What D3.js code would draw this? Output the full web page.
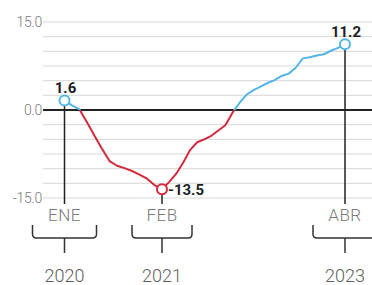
<!DOCTYPE html>
<html>
<head>
<meta charset="utf-8">
<script src="https://cdn.jsdelivr.net/npm/d3@7"></script>
<style>
  body { margin: 0; background: #fff; }
  svg { display: block; }
</style>
</head>
<body>
<svg id="chart" width="372" height="285"></svg>
<script>
// monthly values, ENE 2020 .. ABR 2023
var values = [1.6, 0.8, 0.1, -2.1, -4.4, -6.6, -8.7, -9.5, -9.9, -10.4, -11.0, -11.7, -12.8, -13.5,
              -12.3, -10.9, -9.0, -6.8, -5.5, -5.0, -4.4, -3.5, -2.6, -0.5, 1.2, 2.6, 3.4, 4.0,
              4.6, 5.1, 5.8, 6.2, 7.2, 8.8, 9.0, 9.3, 9.5, 10.1, 10.6, 11.2]
var marks = [0, 13, 39]          // highlighted months
var markLabels = ['1.6', '-13.5', '11.2']
var monthLabels = ['ENE', 'FEB', 'ABR']
var yearLabels = ['2020', '2021', '2023']
var yTicks = [15, 0, -15]
var gridValues = d3.range(-15, 15.01, 2.5)

var red = '#d12a3c'
var blue = '#55b5e4'

var svg = d3.select('#chart')

var x = d3.scaleLinear().domain([0, 13, 39]).range([64.5, 162, 345])
var y = d3.scaleLinear().domain([-15, 15]).range([198, 22])

// grid
svg.selectAll('.grid')
    .data(gridValues)
    .join('line')
    .attr('x1', 43).attr('x2', 372)
    .attr('y1', d => y(d)).attr('y2', d => y(d))
    .attr('stroke', '#d8d8d8')
    .attr('stroke-width', 1)

// y labels
svg.selectAll('.ylab')
    .data(yTicks)
    .join('text')
    .attr('x', 42)
    .attr('y', d => y(d))
    .attr('dy', '0.36em')
    .attr('text-anchor', 'end')
    .attr('font-family', 'Roboto, sans-serif')
    .attr('font-weight', 300)
    .attr('font-size', 14)
    .attr('fill', '#7a7a7a')
    .attr('letter-spacing', -0.3)
    .text(d => d.toFixed(1))

// vertical marker lines
svg.selectAll('.vline')
    .data(marks)
    .join('line')
    .attr('x1', d => x(d)).attr('x2', d => x(d))
    .attr('y1', d => y(values[d])).attr('y2', 204)
    .attr('stroke', '#222')
    .attr('stroke-width', 1.5)

// zero line
svg.append('line')
    .attr('x1', 43).attr('x2', 372)
    .attr('y1', y(0)).attr('y2', y(0))
    .attr('stroke', '#222')
    .attr('stroke-width', 1.8)

// gradient: blue above zero, red below
var grad = svg.append('defs').append('linearGradient')
    .attr('id', 'split')
    .attr('gradientUnits', 'userSpaceOnUse')
    .attr('x1', 0).attr('x2', 0)
    .attr('y1', y(15)).attr('y2', y(-15))
var z = (y(0) - y(15)) / (y(-15) - y(15))
grad.append('stop').attr('offset', z).attr('stop-color', blue)
grad.append('stop').attr('offset', z).attr('stop-color', red)

var line = d3.line()
    .x((d, i) => x(i))
    .y(d => y(d))

svg.append('path')
    .datum(values)
    .attr('d', line)
    .attr('fill', 'none')
    .attr('stroke', 'url(#split)')
    .attr('stroke-width', 2)
    .attr('stroke-linejoin', 'round')

// marker circles
svg.selectAll('.dot')
    .data(marks)
    .join('circle')
    .attr('cx', d => x(d))
    .attr('cy', d => y(values[d]))
    .attr('r', 5)
    .attr('fill', '#fff')
    .attr('stroke', d => values[d] < 0 ? red : blue)
    .attr('stroke-width', 2)

// value labels
svg.selectAll('.vlab')
    .data(marks)
    .join('text')
    .attr('x', (d, i) => i == 1 ? x(d) + 6 : x(d) + 1)
    .attr('y', (d, i) => i == 1 ? y(values[d]) : y(values[d]) - 13)
    .attr('dy', '0.36em')
    .attr('text-anchor', (d, i) => i == 1 ? 'start' : 'middle')
    .attr('font-family', 'Roboto, sans-serif')
    .attr('font-weight', 700)
    .attr('font-size', 15)
    .attr('fill', '#1e1e1e')
    .text((d, i) => markLabels[i])

// month labels
svg.selectAll('.mlab')
    .data(marks)
    .join('text')
    .attr('x', d => x(d))
    .attr('y', 221)
    .attr('text-anchor', 'middle')
    .attr('font-family', 'Roboto, sans-serif')
    .attr('font-weight', 300)
    .attr('font-size', 17)
    .attr('fill', '#7a7a7a')
    .attr('letter-spacing', 0.5)
    .text((d, i) => monthLabels[i])

// braces
var halfW = [32, 30, 32]
svg.selectAll('.brace')
    .data(marks)
    .join('path')
    .attr('d', (d, i) => {
        var cx = x(d), w = halfW[i], r = 4
        return 'M' + (cx - w) + ',225 V' + (238 - r) +
            ' Q' + (cx - w) + ',238 ' + (cx - w + r) + ',238 H' + (cx + w - r) +
            ' Q' + (cx + w) + ',238 ' + (cx + w) + ',' + (238 - r) + ' V225' +
            ' M' + cx + ',238 V253'
    })
    .attr('fill', 'none')
    .attr('stroke', '#333')
    .attr('stroke-width', 1.5)

// year labels
svg.selectAll('.ylabel')
    .data(marks)
    .join('text')
    .attr('x', d => x(d))
    .attr('y', 282)
    .attr('text-anchor', 'middle')
    .attr('font-family', 'Roboto, sans-serif')
    .attr('font-weight', 300)
    .attr('font-size', 18)
    .attr('fill', '#5e5e5e')
    .text((d, i) => yearLabels[i])
</script>
</body>
</html>
